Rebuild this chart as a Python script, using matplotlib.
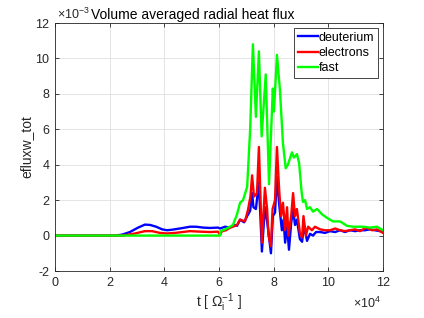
import matplotlib
matplotlib.use("Agg")
import matplotlib.pyplot as plt

plt.rcParams['font.family'] = ['Liberation Sans', 'DejaVu Sans']
plt.rcParams['mathtext.fontset'] = 'custom'
plt.rcParams['mathtext.rm'] = 'Liberation Sans'
plt.rcParams['mathtext.it'] = 'Liberation Sans:italic'
plt.rcParams['mathtext.sf'] = 'Liberation Sans'

# time in units of 1e4 [1/Omega_i], flux in units of 1e-3
t_deut = [0, 2.2, 2.45, 2.74, 3.04, 3.29, 3.48, 3.7, 3.92, 4.1, 4.28, 4.57, 4.94, 5.16,
          5.42, 5.67, 5.96, 6.04, 6.22, 6.4, 6.55, 6.66, 6.77, 6.92, 7.03, 7.14, 7.21,
          7.26, 7.35, 7.46, 7.57, 7.68, 7.76, 7.81, 7.90, 7.97, 8.05, 8.12, 8.2, 8.3,
          8.36, 8.42, 8.49, 8.56, 8.64, 8.71, 8.78, 8.85, 8.96, 9.04, 9.11, 9.22, 9.33,
          9.44, 9.55, 9.7, 9.88, 10.06, 10.25, 10.43, 10.61, 10.79, 10.98, 11.16, 11.34,
          11.52, 11.71, 11.89, 12.0]
v_deut = [0, 0, 0.05, 0.2, 0.45, 0.62, 0.6, 0.5, 0.35, 0.3, 0.33, 0.4, 0.5, 0.5,
          0.45, 0.43, 0.45, 0.4, 0.5, 0.45, 0.6, 0.55, 0.9, 0.75, 1.1, 1.4, 2.4,
          1.6, 1.5, 3.0, -0.9, 1.6, 0.8, 0.2, -1.0, 1.1, 1.3, 3.3, 1.8, 0.3,
          0.9, -0.4, 0.6, -0.8, 0.7, 1.5, 0.6, 0.9, -0.2, -0.35, 0.6, -0.3, 0.1,
          0.0, 0.2, 0.2, 0.15, 0.25, 0.2, 0.3, 0.2, 0.3, 0.25, 0.3, 0.3,
          0.35, 0.3, 0.25, 0.25]

t_elec = [0, 2.5, 2.56, 2.93, 3.29, 3.55, 3.84, 4.1, 4.39, 4.94, 5.31, 5.67, 5.96,
          6.04, 6.11, 6.26, 6.4, 6.51, 6.66, 6.77, 6.95, 7.06, 7.15, 7.21, 7.28, 7.39,
          7.46, 7.57, 7.68, 7.76, 7.81, 7.90, 7.96, 8.05, 8.12, 8.2, 8.27, 8.34, 8.42,
          8.49, 8.54, 8.64, 8.71, 8.78, 8.85, 8.96, 9.04, 9.09, 9.18, 9.26, 9.4, 9.51,
          9.7, 9.88, 10.06, 10.25, 10.43, 10.61, 10.79, 10.98, 11.16, 11.38, 11.6,
          11.78, 12.0]
v_elec = [0, 0, 0.02, 0.12, 0.25, 0.25, 0.15, 0.12, 0.15, 0.25, 0.22, 0.2, 0.22,
          0.05, 0.25, 0.3, 0.45, 0.5, 0.6, 0.9, 0.8, 1.45, 2.2, 3.4, 2.2, 2.4,
          5.0, -0.4, 2.7, 1.5, 0.0, -0.6, 1.5, 2.0, 5.0, 2.6, 1.1, 1.85, 0.3,
          1.6, 0.0, 1.1, 2.4, 1.1, 1.5, 0.15, -0.1, 1.1, 0.0, 0.5, 0.3, 0.5,
          0.35, 0.3, 0.3, 0.4, 0.3, 0.25, 0.3, 0.35, 0.25, 0.45, 0.3,
          0.35, 0.15]

t_fast = [0, 6.04, 6.06, 6.22, 6.4, 6.51, 6.66, 6.77, 6.88, 7.03, 7.14, 7.24, 7.35,
          7.46, 7.56, 7.71, 7.83, 7.97, 8.01, 8.12, 8.23, 8.34, 8.44, 8.52, 8.67,
          8.74, 8.85, 8.93, 9.02, 9.07, 9.15, 9.22, 9.33, 9.44, 9.59, 9.77, 9.95,
          10.17, 10.43, 10.68, 10.9, 11.27, 11.53, 11.78, 12.0]
v_fast = [0, 0, 0.25, 0.35, 0.5, 0.6, 1.2, 1.85, 2.0, 2.75, 6.0, 10.8, 6.7,
          10.4, 5.6, 9.1, 2.9, 8.3, 7.0, 10.2, 8.2, 5.2, 3.8, 4.0, 4.7,
          4.4, 4.6, 4.1, 2.5, 1.9, 2.0, 1.5, 1.6, 1.35, 1.5, 1.2, 1.0,
          0.8, 0.8, 0.55, 0.5, 0.5, 0.45, 0.5, 0.3]

labels = ['deuterium', 'electrons', 'fast']
colors = ['#0000ff', '#ff0000', '#00ff00']
xticks = [0, 2, 4, 6, 8, 10, 12]
yticks = [-2, 0, 2, 4, 6, 8, 10, 12]

W, H = 424, 318
fig = plt.figure(figsize=(W / 100, H / 100), dpi=100)
ax = fig.add_axes([55 / W, (H - 271) / H, (383 - 55) / W, (271 - 23) / H])

axc = '#262626'
for (tt, vv), lab, col in zip([(t_deut, v_deut), (t_elec, v_elec), (t_fast, v_fast)], labels, colors):
    ax.plot(tt, vv, color=col, lw=1.7, label=lab)

ax.set_xlim(0, 12)
ax.set_ylim(-2, 12)
ax.set_xticks(xticks)
ax.set_yticks(yticks)
ax.set_xticklabels([str(x) for x in xticks])
ax.set_yticklabels([str(y) for y in yticks])
ax.grid(True, color='#e0e0e0', lw=0.6)
ax.set_axisbelow(True)
ax.tick_params(direction='in', length=3, width=0.6, colors=axc, labelsize=9,
               top=True, right=True, pad=4)
for s in ax.spines.values():
    s.set_color(axc)
    s.set_linewidth(0.6)

ax.set_xlabel(r't [ $\Omega_{\mathrm{i}}^{-1}$ ]', fontsize=10, color=axc, labelpad=2)
ax.set_ylabel('efluxw_tot', fontsize=10, color=axc, labelpad=0)
ax.yaxis.set_label_coords((33 - 55) / (383 - 55), 0.5)

fig.text(57 / W, 1 - 19 / H, r'$\times10^{-3}$', fontsize=9, color=axc, va='baseline', ha='left')
fig.text(91 / W, 1 - 19 / H, 'Volume averaged radial heat flux', fontsize=10, color='black',
         va='baseline', ha='left')
fig.text(353 / W, 1 - 308 / H, r'$\times10^{4}$', fontsize=9, color=axc, va='baseline', ha='left')

leg = ax.legend(loc='upper right', fontsize=9, handlelength=1.55, handletextpad=0.1,
                borderpad=0.3, labelspacing=0.25, borderaxespad=0.4, fancybox=False,
                framealpha=1, edgecolor='#262626')
leg.get_frame().set_linewidth(0.6)

fig.savefig('out.png', dpi=100)
